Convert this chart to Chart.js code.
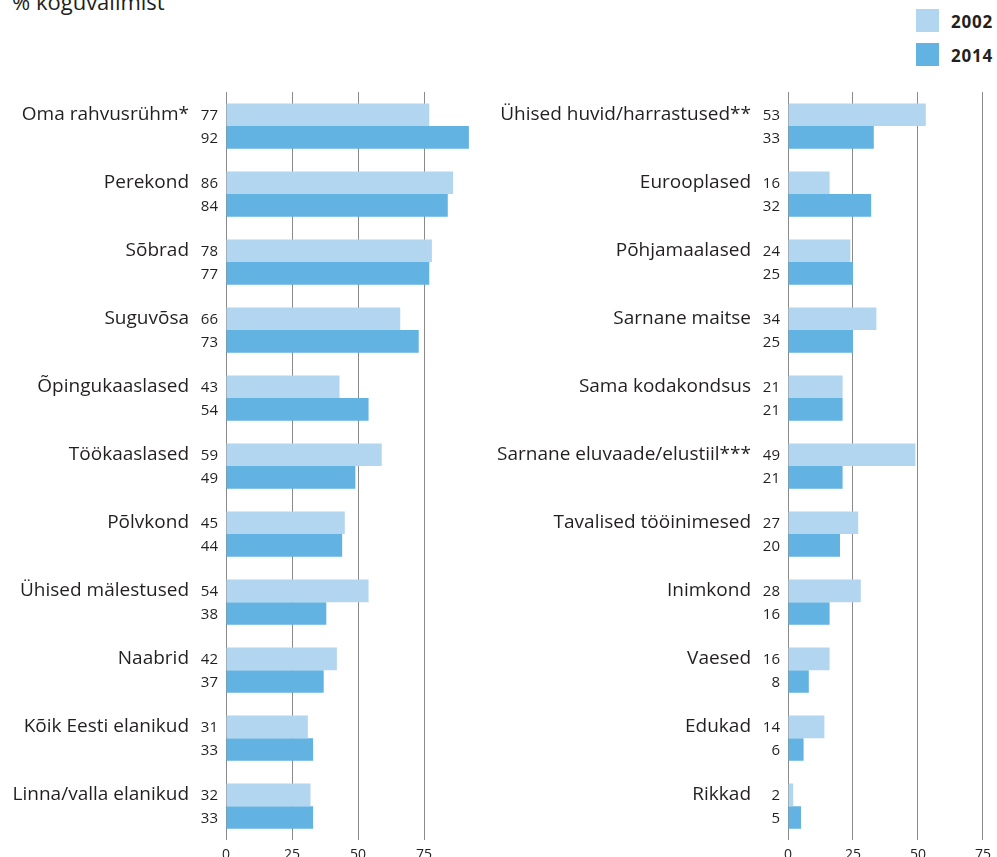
<!DOCTYPE html>
<html>
<head>
<meta charset="utf-8">
<script src="https://cdn.jsdelivr.net/npm/chart.js@4/dist/chart.umd.min.js"></script>
<style>
  html, body { margin: 0; padding: 0; background: #fff; overflow: hidden; }
  body { width: 997px; height: 857px; position: relative; font-family: "Open Sans", sans-serif; color: #231f20; }
  #pealkiri { position: absolute; left: 12px; top: -14px; font-size: 22px; }
  .leg { position: absolute; left: 916px; width: 23px; height: 23px; }
  .legtxt { position: absolute; left: 951px; font-size: 17px; font-weight: bold; letter-spacing: 0.8px; }
  #vasak { position: absolute; left: 0; top: 0; }
  #parem { position: absolute; left: 490px; top: 0; }
</style>
</head>
<body>
<div id="pealkiri">% koguvalimist</div>
<div class="leg" style="top:9px;background:#b2d6f0"></div>
<div class="legtxt" style="top:10px">2002</div>
<div class="leg" style="top:43px;background:#62b2e2"></div>
<div class="legtxt" style="top:44px">2014</div>
<canvas id="vasak" width="490" height="878"></canvas>
<canvas id="parem" width="507" height="878"></canvas>
<script>
const aastad = ['2002', '2014'];
const varvid = ['#b2d6f0', '#62b2e2'];
const xTikid = [0, 25, 50, 75];

const kategooriadVasak = ['Oma rahvusrühm*', 'Perekond', 'Sõbrad', 'Suguvõsa', 'Õpingukaaslased', 'Töökaaslased',
  'Põlvkond', 'Ühised mälestused', 'Naabrid', 'Kõik Eesti elanikud', 'Linna/valla elanikud'];
const vasak2002 = [77, 86, 78, 66, 43, 59, 45, 54, 42, 31, 32];
const vasak2014 = [92, 84, 77, 73, 54, 49, 44, 38, 37, 33, 33];

const kategooriadParem = ['Ühised huvid/harrastused**', 'Eurooplased', 'Põhjamaalased', 'Sarnane maitse',
  'Sama kodakondsus', 'Sarnane eluvaade/elustiil***', 'Tavalised tööinimesed', 'Inimkond', 'Vaesed', 'Edukad', 'Rikkad'];
const parem2002 = [53, 16, 24, 34, 21, 49, 27, 28, 16, 14, 2];
const parem2014 = [33, 32, 25, 25, 21, 21, 20, 16, 8, 6, 5];

const tekst = '#231f20';
const font = '"Open Sans", sans-serif';

// kategooria nimi ja väärtused telje kõrvale
const sildid = {
  id: 'sildid',
  afterDatasetsDraw(chart) {
    const ctx = chart.ctx;
    const vasakServ = chart.chartArea.left;
    ctx.save();
    ctx.fillStyle = tekst;
    ctx.textAlign = 'right';
    ctx.textBaseline = 'middle';
    chart.data.datasets.forEach((ds, i) => {
      const meta = chart.getDatasetMeta(i);
      meta.data.forEach((bar, j) => {
        ctx.font = '15px ' + font;
        ctx.fillText(ds.data[j], vasakServ - 8, bar.y + 1);
        if (i === 0) {
          ctx.font = '19px ' + font;
          ctx.fillText(chart.data.labels[j], vasakServ - 37, bar.y);
        }
      });
    });
    ctx.restore();
  }
};

function joonista(id, labels, a, b, xMax, vasakPadding) {
  new Chart(document.getElementById(id), {
    type: 'bar',
    data: {
      labels: labels,
      datasets: [
        { label: aastad[0], data: a, backgroundColor: varvid[0] },
        { label: aastad[1], data: b, backgroundColor: varvid[1] }
      ]
    },
    options: {
      indexAxis: 'y',
      responsive: false,
      animation: false,
      barPercentage: 1,
      categoryPercentage: 0.665,
      layout: { padding: { left: vasakPadding, top: 92, bottom: 9, right: 0 } },
      plugins: { legend: { display: false }, tooltip: { enabled: false } },
      scales: {
        y: { display: false },
        x: {
          min: 0,
          max: xMax,
          afterBuildTicks: axis => { axis.ticks = xTikid.map(v => ({ value: v })); },
          grid: { color: '#8a8a8a', lineWidth: 1, drawTicks: false },
          border: { display: false },
          ticks: { color: tekst, font: { family: font, size: 14 }, padding: 6 }
        }
      }
    },
    plugins: [sildid]
  });
}

joonista('vasak', kategooriadVasak, vasak2002, vasak2014, 100, 226);
joonista('parem', kategooriadParem, parem2002, parem2014, 80, 298);
</script>
</body>
</html>
